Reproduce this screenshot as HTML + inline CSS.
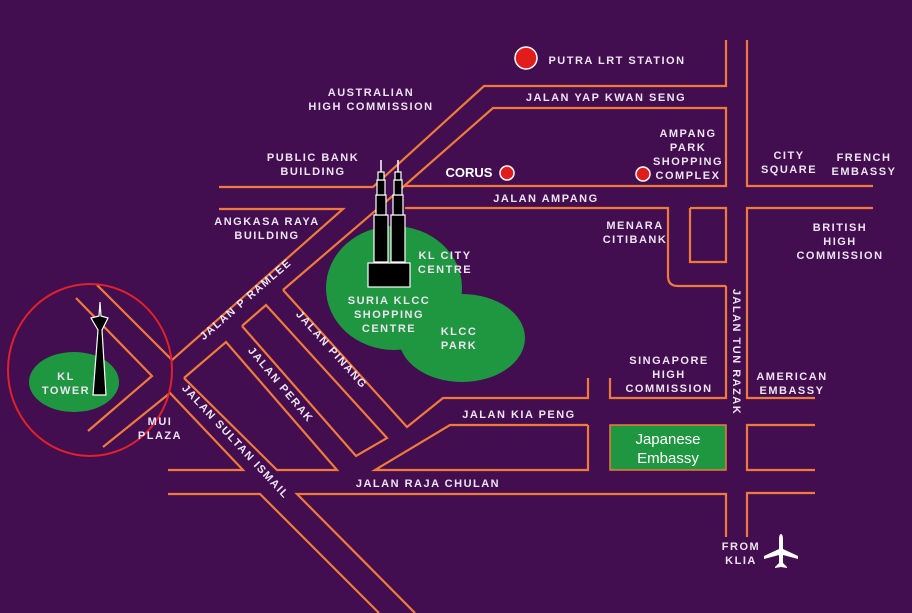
<!DOCTYPE html>
<html><head><meta charset="utf-8"><style>
html,body{margin:0;padding:0;background:#420e4f;}
svg{display:block}
text{font-family:"Liberation Sans",sans-serif;font-size:11px;font-weight:bold;fill:#ece4f0;letter-spacing:1.5px;text-anchor:middle}
.r{fill:none;stroke:#f07a3c;stroke-width:2.2;stroke-linejoin:miter}
</style></head><body>
<svg width="912" height="613" viewBox="0 0 912 613" xmlns="http://www.w3.org/2000/svg">
<rect width="912" height="613" fill="#420e4f"/>
<ellipse cx="394" cy="288" rx="68" ry="62" fill="#1f9741"/>
<ellipse cx="462" cy="338" rx="63" ry="44" fill="#1f9741"/>
<ellipse cx="74" cy="382" rx="45" ry="30" fill="#1f9741"/>
<g class="r">
<polyline points="726,40 726,86 484,86 373,187 219,187"/>
<polyline points="219,209 343,209 172,360 97,285"/>
<polyline points="283,290 403,187 493,108 726,108 726,186 403,186"/>
<path d="M405,208 L668,208 L668,276 Q668,286 678,286 L726,286"/>
<polyline points="690,208 726,208 726,262 690,262 690,208"/>
<polyline points="747,40 747,186 873,186"/>
<polyline points="873,208 747,208 747,398 815,398"/>
<polyline points="726,286 726,398 610,398 610,378"/>
<polyline points="283,290 407,427 443,398 588,398 588,378"/>
<polyline points="588,425 450,425 375,470 588,470 588,425"/>
<polyline points="184,378 226,342 337,470 277,470 184,378"/>
<polyline points="242,326 266,305 387,438 356,456 242,326"/>
<polyline points="103,447 170,393 243,470 168,470"/>
<polyline points="76,298 152,376 88,431"/>
<polyline points="168,494 260,494 379,613"/>
<polyline points="415,613 297,494 726,494 726,537"/>
<polyline points="747,537 747,493 815,493"/>
<polyline points="815,470 747,470 747,425 815,425"/>
</g>
<rect x="610" y="425" width="116" height="45" fill="#1f9741" stroke="#f07a3c" stroke-width="1.5"/>
<ellipse cx="90" cy="370" rx="82" ry="86" fill="none" stroke="#e0202a" stroke-width="2"/>
<polygon points="100,302 101,316 108,318 102,330 106,395 93,395 98,330 91,318 99,316" fill="#000" stroke="#fff" stroke-width="1.2"/>
<g fill="#000" stroke="#fff" stroke-width="1.2">
<rect x="374" y="215" width="14" height="47"/><rect x="376" y="195" width="10" height="20"/><rect x="377" y="180" width="8" height="15"/><rect x="378" y="172" width="6" height="8"/>
<rect x="391" y="215" width="14" height="47"/><rect x="393" y="195" width="10" height="20"/><rect x="394" y="180" width="8" height="15"/><rect x="395" y="172" width="6" height="8"/>
<rect x="368" y="263" width="42" height="24"/>
</g>
<line x1="381" y1="160" x2="381" y2="172" stroke="#fff" stroke-width="1.5"/>
<line x1="398" y1="160" x2="398" y2="172" stroke="#fff" stroke-width="1.5"/>
<g fill="#e21b1b" stroke="#fff" stroke-width="1.5">
<circle cx="526" cy="58" r="11"/><circle cx="507" cy="173" r="7"/><circle cx="643" cy="174" r="7"/>
</g>
<text x="617" y="64">PUTRA LRT STATION</text>
<text x="371" y="96">AUSTRALIAN</text><text x="371" y="110">HIGH COMMISSION</text>
<text x="606" y="101">JALAN YAP KWAN SENG</text>
<text x="313" y="161">PUBLIC BANK</text><text x="313" y="175">BUILDING</text>
<text x="469" y="177" style="font-size:13px;letter-spacing:0;fill:#fff">CORUS</text>
<text x="688" y="137">AMPANG</text><text x="688" y="151">PARK</text><text x="688" y="165">SHOPPING</text><text x="688" y="179">COMPLEX</text>
<text x="789" y="159">CITY</text><text x="789" y="173">SQUARE</text>
<text x="864" y="161">FRENCH</text><text x="864" y="175">EMBASSY</text>
<text x="546" y="202">JALAN AMPANG</text>
<text x="267" y="225">ANGKASA RAYA</text><text x="267" y="239">BUILDING</text>
<text x="635" y="229">MENARA</text><text x="635" y="243">CITIBANK</text>
<text x="840" y="231">BRITISH</text><text x="840" y="245">HIGH</text><text x="840" y="259">COMMISSION</text>
<text x="445" y="259">KL CITY</text><text x="445" y="273">CENTRE</text>
<text x="389" y="304">SURIA KLCC</text><text x="389" y="318">SHOPPING</text><text x="389" y="332">CENTRE</text>
<text x="459" y="335">KLCC</text><text x="459" y="349">PARK</text>
<text x="66" y="380">KL</text><text x="66" y="394">TOWER</text>
<text x="160" y="425">MUI</text><text x="160" y="439">PLAZA</text>
<text x="669" y="364">SINGAPORE</text><text x="669" y="378">HIGH</text><text x="669" y="392">COMMISSION</text>
<text x="792" y="380">AMERICAN</text><text x="792" y="394">EMBASSY</text>
<text x="519" y="418">JALAN KIA PENG</text>
<text x="428" y="487">JALAN RAJA CHULAN</text>
<text x="741" y="550">FROM</text><text x="741" y="564">KLIA</text>
<text transform="translate(248,302) rotate(-41)">JALAN P RAMLEE</text>
<text transform="translate(329,352) rotate(48)">JALAN PINANG</text>
<text transform="translate(278,387) rotate(50)">JALAN PERAK</text>
<text transform="translate(233,444) rotate(47)">JALAN SULTAN ISMAIL</text>
<text transform="translate(733,352) rotate(90)">JALAN TUN RAZAK</text>
<text x="668" y="444" style="font-size:15px;font-weight:normal;letter-spacing:0;fill:#fff">Japanese</text>
<text x="668" y="463" style="font-size:15px;font-weight:normal;letter-spacing:0;fill:#fff">Embassy</text>
<g fill="#fff">
<path d="M781,534 Q783,534 783,540 L783,549 L798,556 L798,559 L783,555 L783,563 L787,567 L787,568 L781,567 L775,568 L775,567 L779,563 L779,555 L764,559 L764,556 L779,549 L779,540 Q779,534 781,534 Z"/>
</g>
</svg>
</body></html>
